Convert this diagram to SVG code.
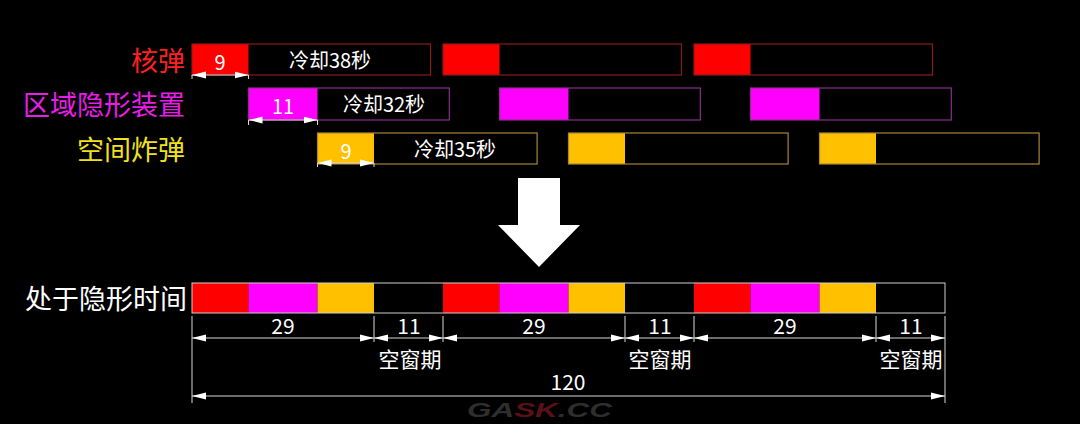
<svg xmlns="http://www.w3.org/2000/svg" width="1080" height="424" viewBox="0 0 1080 424">
<defs>
<style>
.t{font-family:"Noto Sans CJK SC","Noto Sans",sans-serif}
.lbl{font-size:27px;text-anchor:end}
.w{fill:#ffffff}
.num{font-size:20px;text-anchor:middle;fill:#ffffff}
.dim{stroke:#d8d8d8;stroke-width:1;fill:none}
.dl{stroke:#d8d8d8;stroke-width:1;fill:none;marker-start:url(#ah);marker-end:url(#ah)}
.r{fill:#ff0000}.m{fill:#ff00ff}.y{fill:#ffc000}
.ro{fill:none;stroke:#8a1c1c;stroke-width:1.2}
.mo{fill:none;stroke:#8c2e8c;stroke-width:1.2}
.yo{fill:none;stroke:#a8863a;stroke-width:1.2}
</style>
<marker id="ah" viewBox="0 0 14 8" refX="14" refY="4" markerWidth="14" markerHeight="8" markerUnits="userSpaceOnUse" orient="auto-start-reverse">
<path d="M0,0.6 L14,4 L0,7.4 z" fill="#ffffff"/>
</marker>
</defs>
<rect width="1080" height="424" fill="#000000"/>

<g id="labels">
<text class="t lbl" x="185" y="71" fill="#ff2020">核弹</text>
<text class="t lbl" x="185" y="115" fill="#e81ee8">区域隐形装置</text>
<text class="t lbl" x="185" y="160" fill="#f2e21c">空间炸弹</text>
<text class="t lbl w" x="187" y="309">处于隐形时间</text>
</g>

<g id="row-nuke">
<rect class="r" x="192" y="44" width="56.5" height="31"/>
<rect class="ro" x="192" y="44" width="238.5" height="31"/>
<rect class="r" x="443" y="44" width="56.5" height="31"/>
<rect class="ro" x="443" y="44" width="238.5" height="31"/>
<rect class="r" x="694" y="44" width="56.5" height="31"/>
<rect class="ro" x="694" y="44" width="238.5" height="31"/>
<text class="t num" x="220" y="70">9</text>
<text class="t num" x="330" y="68">冷却38秒</text>
</g>

<g id="row-stealth">
<rect class="m" x="248.5" y="88" width="69" height="32"/>
<rect class="mo" x="248.5" y="88" width="200.8" height="32"/>
<rect class="m" x="499.5" y="88" width="69" height="32"/>
<rect class="mo" x="499.5" y="88" width="200.8" height="32"/>
<rect class="m" x="750.5" y="88" width="69" height="32"/>
<rect class="mo" x="750.5" y="88" width="200.8" height="32"/>
<text class="t num" x="283" y="114">11</text>
<text class="t num" x="384" y="112">冷却32秒</text>
</g>

<g id="row-bomb">
<rect class="y" x="317.5" y="133" width="56.5" height="31"/>
<rect class="yo" x="317.5" y="133" width="219.6" height="31"/>
<rect class="y" x="568.5" y="133" width="56.5" height="31"/>
<rect class="yo" x="568.5" y="133" width="219.6" height="31"/>
<rect class="y" x="819.5" y="133" width="56.5" height="31"/>
<rect class="yo" x="819.5" y="133" width="219.6" height="31"/>
<text class="t num" x="346" y="159">9</text>
<text class="t num" x="455" y="157">冷却35秒</text>
</g>

<g id="big-arrow">
<polygon points="518,178 560,178 560,225 580,225 539,267 498,225 518,225" fill="#ffffff"/>
</g>

<g id="timeline">
<rect class="r" x="192" y="283" width="56.5" height="30"/>
<rect class="m" x="248.5" y="283" width="69" height="30"/>
<rect class="y" x="317.5" y="283" width="56.5" height="30"/>
<rect class="r" x="443" y="283" width="56.5" height="30"/>
<rect class="m" x="499.5" y="283" width="69" height="30"/>
<rect class="y" x="568.5" y="283" width="56.5" height="30"/>
<rect class="r" x="694" y="283" width="56.5" height="30"/>
<rect class="m" x="750.5" y="283" width="69" height="30"/>
<rect class="y" x="819.5" y="283" width="56.5" height="30"/>
<rect x="192" y="283" width="753" height="30" fill="none" stroke="#cfcfcf" stroke-width="1"/>
</g>

<g id="connectors">
<path class="dim" d="M192,75 V79 M248.5,75 V79 M248.5,120 V125 M317.5,120 V125 M317.5,163 V167 M374,163 V167"/>
<line class="dl" x1="192" y1="75" x2="248.5" y2="75"/>
<line class="dl" x1="248.5" y1="120" x2="317.5" y2="120"/>
<line class="dl" x1="317.5" y1="163" x2="374" y2="163"/>

<path class="dim" d="M192,316 V403 M374,316 V342 M443,316 V342 M625,316 V342 M694,316 V342 M876,316 V342 M945,316 V403"/>
<line class="dl" x1="192" y1="338" x2="374" y2="338"/>
<line class="dl" x1="374" y1="338" x2="443" y2="338"/>
<line class="dl" x1="443" y1="338" x2="625" y2="338"/>
<line class="dl" x1="625" y1="338" x2="694" y2="338"/>
<line class="dl" x1="694" y1="338" x2="876" y2="338"/>
<line class="dl" x1="876" y1="338" x2="945" y2="338"/>
<line class="dl" x1="192" y1="396" x2="945" y2="396"/>
</g>

<g id="dim-labels" class="t" font-size="21" fill="#ffffff" text-anchor="middle">
<text x="283" y="334">29</text>
<text x="409" y="334">11</text>
<text x="534" y="334">29</text>
<text x="660" y="334">11</text>
<text x="785" y="334">29</text>
<text x="911" y="334">11</text>
<text x="410" y="367">空窗期</text>
<text x="660" y="367">空窗期</text>
<text x="911" y="367">空窗期</text>
<text x="568" y="390">120</text>
</g>

<g id="watermark" font-family="'Liberation Sans',sans-serif" font-weight="bold" font-style="italic" font-size="21" opacity="0.55">
<text x="467" y="417" textLength="145" lengthAdjust="spacingAndGlyphs" fill="#555555">GA<tspan fill="#a0202a">SK</tspan>.CC</text>
</g>
</svg>
